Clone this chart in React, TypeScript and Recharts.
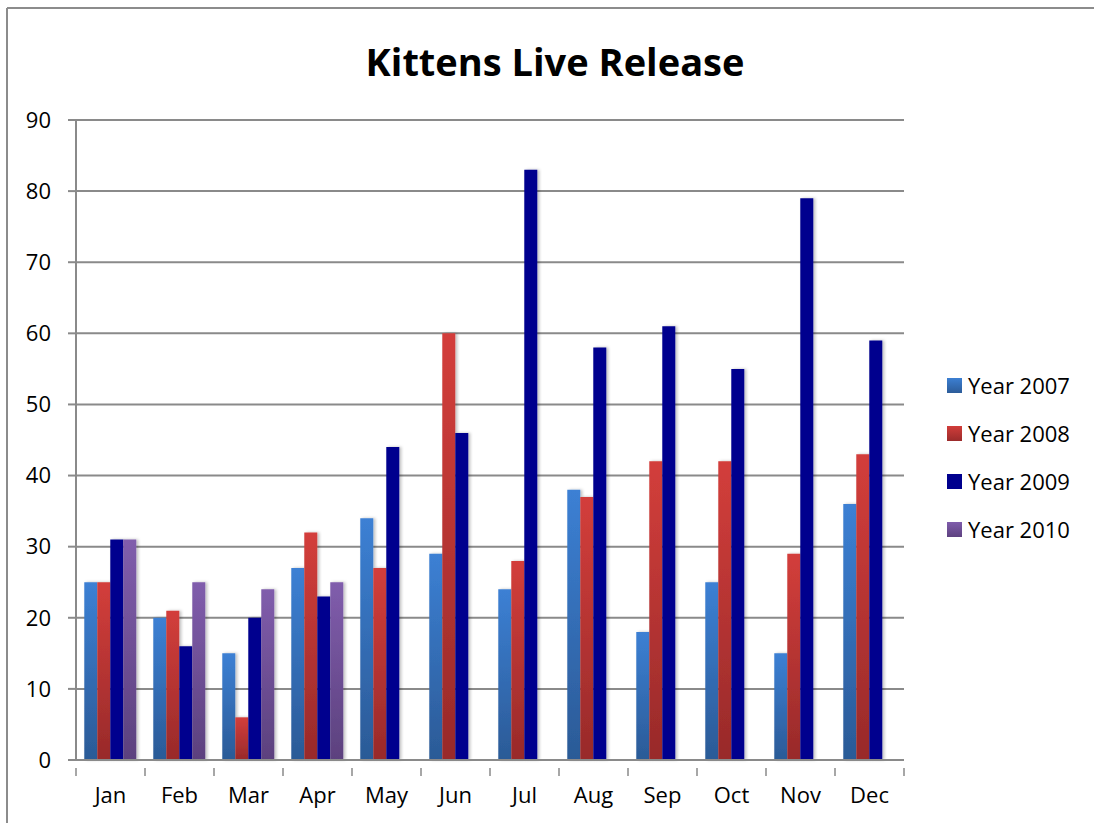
import React from "react";
import {
  BarChart,
  Bar,
  XAxis,
  YAxis,
  CartesianGrid,
  Legend,
  Customized,
} from "recharts";

const months = ["Jan", "Feb", "Mar", "Apr", "May", "Jun", "Jul", "Aug", "Sep", "Oct", "Nov", "Dec"];
const year2007 = [25, 20, 15, 27, 34, 29, 24, 38, 18, 25, 15, 36];
const year2008 = [25, 21, 6, 32, 27, 60, 28, 37, 42, 42, 29, 43];
const year2009 = [31, 16, 20, 23, 44, 46, 83, 58, 61, 55, 79, 59];
const year2010 = [31, 25, 24, 25, null, null, null, null, null, null, null, null];
const yTicks = [0, 10, 20, 30, 40, 50, 60, 70, 80, 90];

const series = [
  { key: "y2007", name: "Year 2007", fill: "url(#g2007)", swatch: ["#3c7fd2", "#2c5c99"] },
  { key: "y2008", name: "Year 2008", fill: "url(#g2008)", swatch: ["#d13d3a", "#9b2b2b"] },
  { key: "y2009", name: "Year 2009", fill: "#00008e", swatch: ["#00008e", "#00008e"] },
  { key: "y2010", name: "Year 2010", fill: "url(#g2010)", swatch: ["#7f5cab", "#5e4280"] },
];

const data = months.map((m, i) => ({
  month: m,
  y2007: year2007[i],
  y2008: year2008[i],
  y2009: year2009[i],
  y2010: year2010[i],
}));

const FONT = "'Open Sans', sans-serif";
const GRID = "#8a8a8a";
const PLOT_LEFT = 76;
const PLOT_RIGHT = 904;
const BAND = (PLOT_RIGHT - PLOT_LEFT) / months.length;

// month label plus the separator ticks that sit between categories
const MonthTick = (props: any) => {
  const { x, y, payload, index } = props;
  const left = x - BAND / 2;
  const right = x + BAND / 2;
  return (
    <g>
      <line x1={left} y1={y} x2={left} y2={y + 8} stroke={GRID} strokeWidth={1.5} />
      {index === months.length - 1 && (
        <line x1={right} y1={y} x2={right} y2={y + 8} stroke={GRID} strokeWidth={1.5} />
      )}
      <text x={x} y={y + 35} textAnchor="middle" fontSize={22} fontFamily={FONT} fill="#000">
        {payload.value}
      </text>
    </g>
  );
};

const LegendBox = () => (
  <div style={{ fontFamily: FONT, fontSize: 22, color: "#000", whiteSpace: "nowrap" }}>
    {series.map((s) => (
      <div key={s.key} style={{ display: "flex", alignItems: "center", height: 48 }}>
        <span
          style={{
            display: "inline-block",
            width: 15,
            height: 15,
            marginRight: 6,
            background: `linear-gradient(${s.swatch[0]}, ${s.swatch[1]})`,
          }}
        />
        {s.name}
      </div>
    ))}
  </div>
);

export default function App() {
  return (
    <div style={{ position: "absolute", left: 0, top: 0 }}>
      <BarChart
        width={1094}
        height={823}
        data={data}
        margin={{ top: 120, right: 190 - 140, bottom: 22, left: 16 }}
        barCategoryGap="12%"
        barGap={0}
      >
        <defs>
          <linearGradient id="g2007" x1="0" y1="0" x2="0" y2="1">
            <stop offset="0%" stopColor="#3c80d4" />
            <stop offset="100%" stopColor="#2b5a96" />
          </linearGradient>
          <linearGradient id="g2008" x1="0" y1="0" x2="0" y2="1">
            <stop offset="0%" stopColor="#d33e3b" />
            <stop offset="100%" stopColor="#982a2a" />
          </linearGradient>
          <linearGradient id="g2010" x1="0" y1="0" x2="0" y2="1">
            <stop offset="0%" stopColor="#805dac" />
            <stop offset="100%" stopColor="#5c417e" />
          </linearGradient>
          <filter id="barShadow" x="-20%" y="-5%" width="150%" height="110%">
            <feDropShadow dx="2" dy="0" stdDeviation="1.5" floodColor="#000" floodOpacity="0.25" />
          </filter>
        </defs>
        <Customized
          component={() => (
            <g>
              <line x1={7} y1={8} x2={1094} y2={8} stroke="#8c8c8c" strokeWidth={2} />
              <line x1={7} y1={8} x2={7} y2={823} stroke="#8c8c8c" strokeWidth={2} />
              <text
                x={555}
                y={76}
                textAnchor="middle"
                fontFamily={FONT}
                fontWeight={700}
                fontSize={38}
                fill="#000"
              >
                Kittens Live Release
              </text>
            </g>
          )}
        />
        <CartesianGrid vertical={false} stroke={GRID} strokeWidth={2} />
        <XAxis
          dataKey="month"
          height={41}
          interval={0}
          tickLine={false}
          axisLine={{ stroke: GRID, strokeWidth: 2 }}
          tick={<MonthTick />}
        />
        <YAxis
          width={60}
          domain={[0, 90]}
          ticks={yTicks}
          interval={0}
          tickSize={8}
          tickMargin={17}
          tickLine={{ stroke: GRID, strokeWidth: 2 }}
          axisLine={{ stroke: GRID, strokeWidth: 2 }}
          tick={{ fontSize: 22, fontFamily: FONT, fill: "#000" }}
        />
        <Legend
          layout="vertical"
          align="right"
          verticalAlign="middle"
          content={<LegendBox />}
          wrapperStyle={{ width: 140, left: 947, top: 361 }}
        />
        {series.map((s) => (
          <Bar
            key={s.key}
            dataKey={s.key}
            name={s.name}
            fill={s.fill}
            filter="url(#barShadow)"
            isAnimationActive={false}
          />
        ))}
      </BarChart>
    </div>
  );
}
